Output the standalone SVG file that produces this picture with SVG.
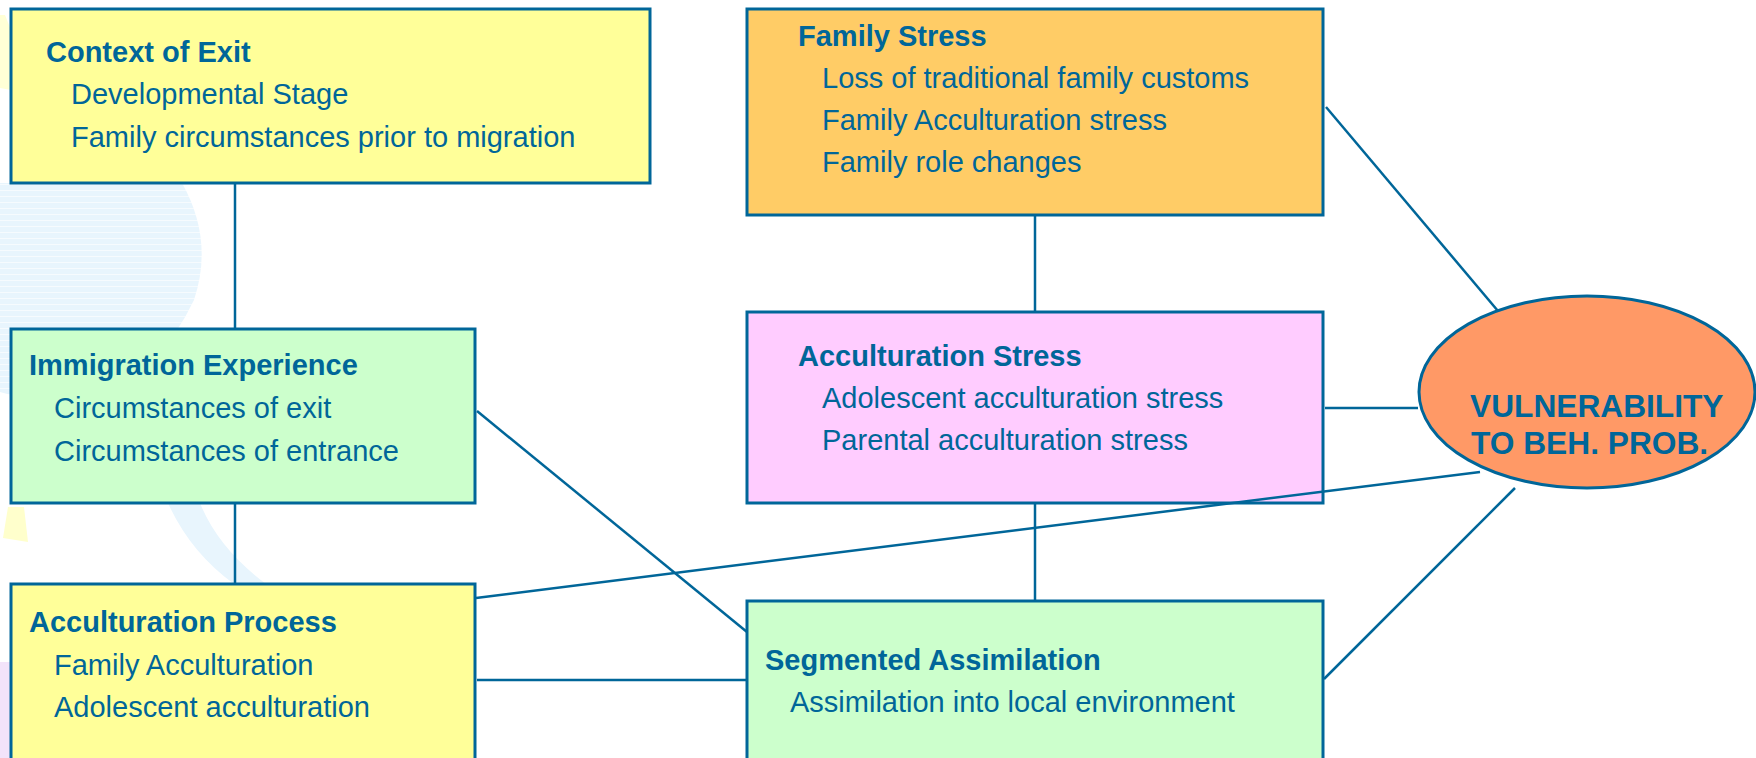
<svg xmlns="http://www.w3.org/2000/svg" width="1756" height="758" viewBox="0 0 1756 758">
  <defs>
    <style>
      .box { stroke: #006699; stroke-width: 3; }
      .conn line { stroke: #006699; stroke-width: 2.5; }
      .t { font-family: "Liberation Sans", Arial, sans-serif; font-size: 29px; fill: #006699; }
      .b { font-weight: bold; }
      .big { font-family: "Liberation Sans", Arial, sans-serif; font-size: 31.7px; font-weight: bold; fill: #006699; }
    </style>
    <pattern id="stripes" width="4" height="6" patternUnits="userSpaceOnUse">
      <rect width="4" height="6" fill="#E8F5FD"/>
      <rect y="4" width="4" height="1" fill="#F6FBFE"/>
    </pattern>
  </defs>
  <rect width="1756" height="758" fill="#FFFFFF"/>

  <!-- faint background decorations -->
  <path d="M0,183 H182 Q214,240 194,300 Q178,334 150,365 L11,395 L0,392 Z" fill="url(#stripes)"/>
  <path d="M168,503 L200,503 Q218,548 266,584 L234,584 Q190,552 168,503 Z" fill="#E8F5FD"/>
  <polygon points="0,15 5,15 11,30 11,90 0,88" fill="#FFFFD6"/>
  <polygon points="8,507 24,507 28,542 3,538" fill="#FFFFCC"/>
  <rect x="0" y="662" width="11" height="96" fill="#F3E3FA"/>

  <g id="context-of-exit">
    <rect class="box" x="11" y="9" width="639" height="174" fill="#FFFF99"/>
    <text class="t b" x="46" y="62">Context of Exit</text>
    <text class="t" x="71" y="104">Developmental Stage</text>
    <text class="t" x="71" y="147">Family circumstances prior to migration</text>
  </g>

  <g id="immigration-experience">
    <rect class="box" x="11" y="329" width="464" height="174" fill="#CCFFCC"/>
    <text class="t b" x="29" y="375">Immigration Experience</text>
    <text class="t" x="54" y="418">Circumstances of exit</text>
    <text class="t" x="54" y="461">Circumstances of entrance</text>
  </g>

  <g id="acculturation-process">
    <rect class="box" x="11" y="584" width="464" height="180" fill="#FFFF99"/>
    <text class="t b" x="29" y="632">Acculturation Process</text>
    <text class="t" x="54" y="675">Family Acculturation</text>
    <text class="t" x="54" y="717">Adolescent acculturation</text>
  </g>

  <g id="family-stress">
    <rect class="box" x="747" y="9" width="576" height="206" fill="#FFCC66"/>
    <text class="t b" x="798" y="46">Family Stress</text>
    <text class="t" x="822" y="88">Loss of traditional family customs</text>
    <text class="t" x="822" y="130">Family Acculturation stress</text>
    <text class="t" x="822" y="172">Family role changes</text>
  </g>

  <g id="acculturation-stress">
    <rect class="box" x="747" y="312" width="576" height="191" fill="#FFCCFF"/>
    <text class="t b" x="798" y="366">Acculturation Stress</text>
    <text class="t" x="822" y="408">Adolescent acculturation stress</text>
    <text class="t" x="822" y="450">Parental acculturation stress</text>
  </g>

  <g id="segmented-assimilation">
    <rect class="box" x="747" y="601" width="576" height="163" fill="#CCFFCC"/>
    <text class="t b" x="765" y="670">Segmented Assimilation</text>
    <text class="t" x="790" y="712">Assimilation into local environment</text>
  </g>

  <g id="connectors" class="conn">
    <line x1="235" y1="184" x2="235" y2="329"/>
    <line x1="235" y1="504" x2="235" y2="584"/>
    <line x1="1035" y1="216" x2="1035" y2="312"/>
    <line x1="1035" y1="504" x2="1035" y2="601"/>
    <line x1="477" y1="411" x2="747" y2="632"/>
    <line x1="476" y1="598" x2="1480" y2="472"/>
    <line x1="477" y1="680" x2="747" y2="680"/>
    <line x1="1326" y1="107" x2="1498" y2="311"/>
    <line x1="1325" y1="408" x2="1418" y2="408"/>
    <line x1="1324" y1="679" x2="1515" y2="488"/>
  </g>

  <g id="vulnerability">
    <ellipse class="box" cx="1587" cy="392" rx="168" ry="96" fill="#FF9966"/>
    <text class="big" x="1470" y="417">VULNERABILITY</text>
    <text class="big" x="1471" y="454">TO BEH. PROB.</text>
  </g>
</svg>
